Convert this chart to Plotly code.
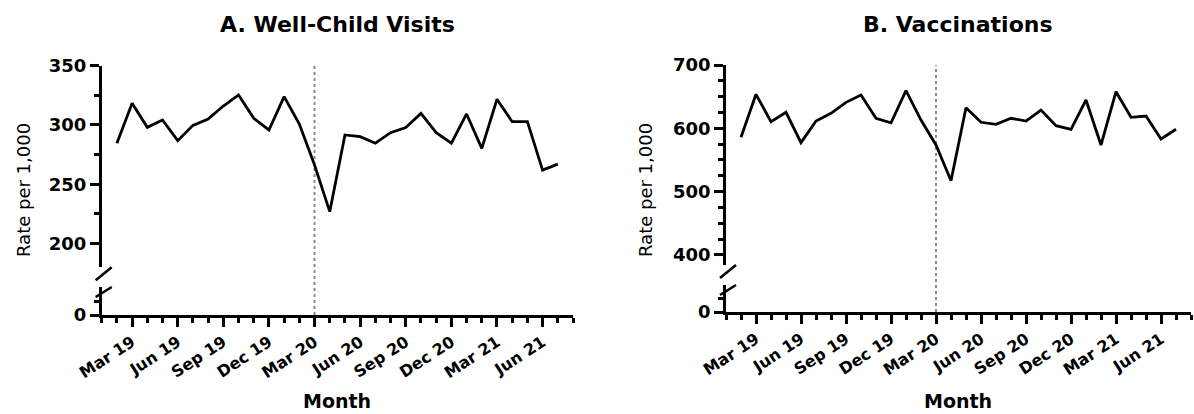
import plotly.graph_objects as go

# Calendar used for the x axis (Jan 19 .. Aug 21), one slot per month
calendar = [f"{m} {y}" for y in (19, 20, 21)
            for m in ("Jan", "Feb", "Mar", "Apr", "May", "Jun",
                      "Jul", "Aug", "Sep", "Oct", "Nov", "Dec")][:32]

# Observed months (Feb 19 .. Jul 21)
months = calendar[1:31]

well_child = [284.6, 318.3, 298.0, 304.2, 286.8, 299.7, 305.0, 316.0, 325.3, 305.6,
              295.8, 323.9, 300.8, 266.3, 226.9, 291.6, 290.2, 284.6, 293.5, 297.8,
              309.8, 293.5, 284.6, 309.3, 280.3, 321.7, 302.8, 302.8, 262.0, 267.0]

vaccinations = [585.8, 653.7, 610.4, 625.3, 577.3, 611.5, 623.7, 641.0, 652.6, 615.8,
                608.8, 659.4, 613.0, 573.6, 517.2, 632.5, 609.5, 606.3, 615.8, 611.5,
                628.9, 604.1, 598.4, 644.7, 573.6, 657.8, 617.4, 619.4, 583.1, 598.4]

tick_labels = ["Mar 19", "Jun 19", "Sep 19", "Dec 19", "Mar 20",
               "Jun 20", "Sep 20", "Dec 20", "Mar 21", "Jun 21"]
lockdown_month = "Mar 20"

titles = ["A. Well-Child Visits", "B. Vaccinations"]
y_title = "Rate per 1,000"
x_title = "Month"

W, H = 1194, 414


def px_x(p):
    return p / W


def px_y(p):
    return 1 - p / H


x_pos = [calendar.index(m) for m in months]
tick_pos = [calendar.index(m) for m in tick_labels]
all_pos = list(range(len(calendar)))

BOLD = dict(family="DejaVu Sans", size=18, color="black", weight="bold")
XFONT = dict(family="DejaVu Sans", size=16, color="black", weight="bold")
LW = 2.6

# panel geometry (pixels): x span, upper axis span + range, lower axis span
panels = [
    dict(x=(101.7, 573.0), up=(65.7, 267.3), up_range=[180, 350],
         up_ticks=[200, 250, 300, 350], up_minor=[225, 275, 325],
         lo=(287.0, 315.0), values=well_child, ytitle_x=23),
    dict(x=(726.0, 1191.0), up=(65.0, 265.0), up_range=[384, 700],
         up_ticks=[400, 500, 600, 700],
         up_minor=[425, 450, 475, 525, 550, 575, 625, 650, 675],
         lo=(285.0, 312.0), values=vaccinations, ytitle_x=645),
]

fig = go.Figure()
layout = dict(
    width=W, height=H,
    margin=dict(l=0, r=0, t=0, b=0, pad=0, autoexpand=False),
    paper_bgcolor="white", plot_bgcolor="white",
    showlegend=False,
)
shapes, annotations = [], []

for i, p in enumerate(panels):
    xa = "x" if i == 0 else "x2"
    xkey = "xaxis" if i == 0 else "xaxis2"
    lo_ref = "y" if i == 0 else "y3"
    up_ref = "y2" if i == 0 else "y4"
    lo_key = "yaxis" if i == 0 else "yaxis3"
    up_key = "yaxis2" if i == 0 else "yaxis4"

    layout[xkey] = dict(
        domain=[px_x(p["x"][0]), px_x(p["x"][1])],
        range=[0, len(calendar) - 1], anchor=lo_ref, automargin=False,
        showline=True, linecolor="black", linewidth=LW,
        showgrid=False, zeroline=False,
        tickmode="array", tickvals=tick_pos, ticktext=tick_labels,
        ticks="outside", ticklen=9, tickwidth=LW, tickcolor="black",
        tickangle=-33, tickfont=XFONT,
        minor=dict(tickmode="array", tickvals=all_pos, ticks="outside",
                   ticklen=5, tickwidth=LW, tickcolor="black", showgrid=False),
    )
    layout[lo_key] = dict(
        domain=[px_y(p["lo"][1]), px_y(p["lo"][0])],
        range=[0, 50], anchor=xa, automargin=False,
        showline=True, linecolor="black", linewidth=LW,
        showgrid=False, zeroline=False,
        tickmode="array", tickvals=[0], ticktext=["0"],
        ticks="outside", ticklen=9, tickwidth=LW, tickcolor="black",
        tickfont=BOLD,
        minor=dict(tickmode="array", tickvals=[25], ticks="outside",
                   ticklen=5, tickwidth=LW, tickcolor="black", showgrid=False),
    )
    layout[up_key] = dict(
        domain=[px_y(p["up"][1]), px_y(p["up"][0])],
        range=p["up_range"], anchor=xa, automargin=False,
        showline=True, linecolor="black", linewidth=LW,
        showgrid=False, zeroline=False,
        tickmode="array", tickvals=p["up_ticks"],
        ticks="outside", ticklen=9, tickwidth=LW, tickcolor="black",
        tickfont=BOLD,
        minor=dict(tickmode="array", tickvals=p["up_minor"], ticks="outside",
                   ticklen=5, tickwidth=LW, tickcolor="black", showgrid=False),
    )

    # empty trace so the lower (broken-off) segment forms its own subplot
    fig.add_trace(go.Scatter(x=[], y=[], xaxis=xa, yaxis=lo_ref,
                             mode="lines", hoverinfo="skip"))
    fig.add_trace(go.Scatter(
        x=x_pos, y=p["values"], xaxis=xa, yaxis=up_ref,
        mode="lines", line=dict(color="black", width=2.8),
        hoverinfo="skip",
    ))

    # dotted reference line at the start of the pandemic
    shapes.append(dict(
        type="line", xref=xa, yref="paper",
        x0=calendar.index(lockdown_month), x1=calendar.index(lockdown_month),
        y0=px_y(p["lo"][1]), y1=px_y(p["up"][0]),
        line=dict(color="#8a8a8a", width=2, dash="dot"), layer="below",
    ))

    # axis-break marks
    ax = p["x"][0]
    for yb, yt in ((p["up"][1] + 13, p["up"][1]), (p["lo"][0] + 10, p["lo"][0])):
        shapes.append(dict(
            type="line", xref="paper", yref="paper",
            x0=px_x(ax - 6), y0=px_y(yb), x1=px_x(ax + 10), y1=px_y(yt),
            line=dict(color="black", width=LW),
        ))

    cx = (p["x"][0] + p["x"][1]) / 2
    annotations.append(dict(
        text=titles[i], xref="paper", yref="paper",
        x=px_x(cx), y=px_y(24), xanchor="center", yanchor="middle",
        showarrow=False,
        font=dict(family="DejaVu Sans", size=22, color="black", weight="bold"),
    ))
    annotations.append(dict(
        text=x_title, xref="paper", yref="paper",
        x=px_x(cx), y=px_y(401), xanchor="center", yanchor="middle",
        showarrow=False,
        font=dict(family="DejaVu Sans", size=19, color="black", weight="bold"),
    ))
    annotations.append(dict(
        text=y_title, xref="paper", yref="paper",
        x=px_x(p["ytitle_x"]), y=px_y(190),
        xanchor="center", yanchor="middle", textangle=-90,
        showarrow=False,
        font=dict(family="DejaVu Sans", size=18, color="black"),
    ))

layout["shapes"] = shapes
layout["annotations"] = annotations
fig.update_layout(**layout)

fig.write_html("out.html")
